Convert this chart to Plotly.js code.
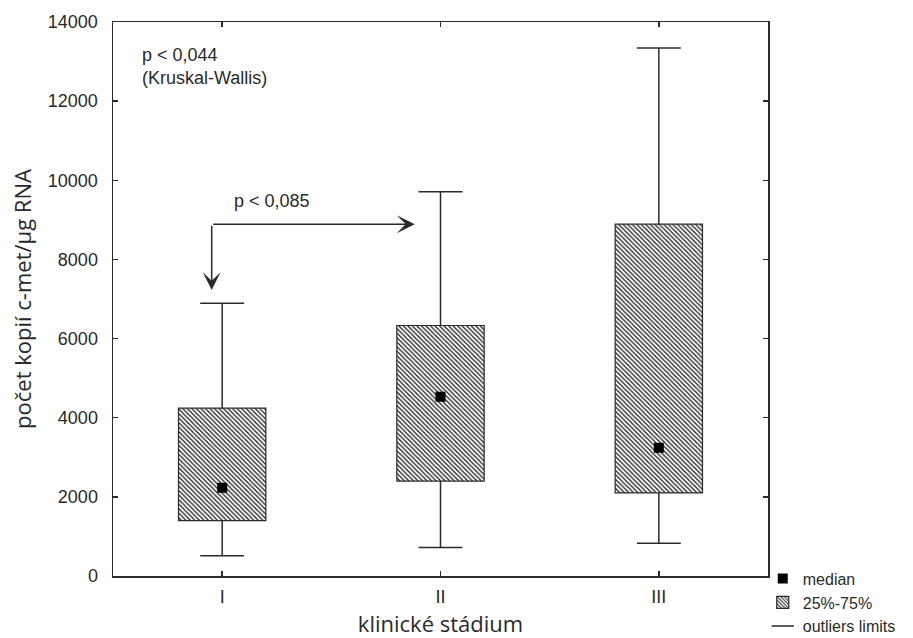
<!DOCTYPE html>
<html>
<head>
<meta charset="utf-8">
<script src="https://cdn.plot.ly/plotly-3.0.1.min.js"></script>
<style>html,body{margin:0;padding:0;background:#fff;}#chart{width:913px;height:638px;}</style>
</head>
<body>
<div id="chart"></div>
<script>
// Categories (clinical stage)
const stages = ['I', 'II', 'III'];
// Box statistics (copies c-met / µg RNA)
const q1Values = [1400, 2400, 2100];
const q3Values = [4240, 6330, 8890];
const medianValues = [2230, 4530, 3240];
const lowerLimits = [510, 720, 830];
const upperLimits = [6890, 9710, 13340];
// Y tick values
const yTicks = [0, 2000, 4000, 6000, 8000, 10000, 12000, 14000];
// Annotation values
const kwText = 'p < 0,044<br>(Kruskal-Wallis)';
const pairText = 'p < 0,085';
const arrowCorner = {x: -0.048, y: 8890};
const arrowDownTipY = 7230;
const arrowRightTipX = 0.882;
const pairLabelPos = {x: 0.045, y: 9480};

const dark = '#2a2a2a';
const txtFont = {family: 'Liberation Sans, Arial, sans-serif', size: 18, color: '#2a2a2a'};
const titleFont = {family: 'Open Sans, sans-serif', size: 22, color: '#2a2a2a'};

// Hatched interquartile boxes
const boxTrace = {
  type: 'bar', x: stages,
  base: q1Values,
  y: q3Values.map((v, i) => v - q1Values[i]),
  width: 0.4,
  name: '25%-75%', legendrank: 2,
  marker: {
    color: 'white',
    line: {color: dark, width: 1.2},
    pattern: {shape: '\\', fgcolor: '#222', bgcolor: 'white', size: 3.2, solidity: 0.4}
  },
  hoverinfo: 'skip'
};

// Whisker lines
const wx = [], wy = [];
stages.forEach((s, i) => {
  wx.push(s, s, null, s, s, null);
  wy.push(q3Values[i], upperLimits[i], null, q1Values[i], lowerLimits[i], null);
});
const whiskerTrace = {
  type: 'scatter', mode: 'lines', x: wx, y: wy,
  line: {color: dark, width: 1.5}, showlegend: false, hoverinfo: 'skip'
};

// Whisker caps (outlier limits)
const capTrace = {
  type: 'scatter', mode: 'markers',
  x: stages.concat(stages), y: upperLimits.concat(lowerLimits),
  name: 'outliers limits', legendrank: 3,
  marker: {symbol: 'line-ew', size: 31.4, color: dark, line: {color: dark, width: 1.5}},
  hoverinfo: 'skip'
};

// Medians
const medianTrace = {
  type: 'scatter', mode: 'markers', x: stages, y: medianValues,
  name: 'median', legendrank: 1,
  marker: {symbol: 'square', size: 10, color: '#000'},
  hoverinfo: 'skip'
};

const layout = {
  width: 913, height: 638,
  margin: {l: 113, r: 145, t: 22, b: 62, autoexpand: false},
  paper_bgcolor: 'white', plot_bgcolor: 'white',
  font: txtFont,
  showlegend: true,
  legend: {
    x: 0.992, xanchor: 'left', y: 0.026, yanchor: 'top',
    font: {family: 'Liberation Sans, Arial, sans-serif', size: 16, color: '#2a2a2a'},
    bgcolor: 'rgba(0,0,0,0)', itemwidth: 30, tracegroupgap: 0
  },
  xaxis: {
    type: 'category', categoryorder: 'array', categoryarray: stages,
    range: [-0.5, 2.5], automargin: false,
    showline: true, linecolor: dark, linewidth: 1.5, mirror: 'ticks',
    ticks: 'inside', ticklen: 5, tickcolor: dark, tickwidth: 1.5,
    showgrid: false, zeroline: false,
    tickfont: txtFont, ticklabelstandoff: 4,
    title: {text: 'klinické stádium', font: titleFont, standoff: 19}
  },
  yaxis: {
    range: [0, 14000], tickvals: yTicks, ticktext: yTicks.map(String),
    automargin: false,
    showline: true, linecolor: dark, linewidth: 1.5, mirror: 'ticks',
    ticks: 'inside', ticklen: 5, tickcolor: dark, tickwidth: 1.5,
    showgrid: false, zeroline: false,
    tickfont: txtFont, ticklabelstandoff: 10,
    title: {text: 'počet kopií c-met/µg RNA', font: titleFont, standoff: 10}
  },
  annotations: [
    {xref: 'paper', yref: 'paper', x: 0.041, y: 0.962, xanchor: 'left', yanchor: 'top',
     align: 'left', text: kwText, showarrow: false, font: txtFont},
    {xref: 'x', yref: 'y', x: pairLabelPos.x, y: pairLabelPos.y, xanchor: 'left', yanchor: 'middle',
     text: pairText, showarrow: false, font: txtFont},
    {xref: 'x', yref: 'y', x: arrowCorner.x, y: arrowDownTipY,
     axref: 'x', ayref: 'y', ax: arrowCorner.x, ay: arrowCorner.y,
     showarrow: true, arrowhead: 3, arrowsize: 2, arrowwidth: 1.5, arrowcolor: dark, text: ''},
    {xref: 'x', yref: 'y', x: arrowRightTipX, y: arrowCorner.y,
     axref: 'x', ayref: 'y', ax: arrowCorner.x, ay: arrowCorner.y,
     showarrow: true, arrowhead: 3, arrowsize: 2, arrowwidth: 1.5, arrowcolor: dark, text: ''}
  ]
};

Plotly.newPlot('chart', [boxTrace, whiskerTrace, capTrace, medianTrace], layout, {staticPlot: true, displayModeBar: false});
</script>
</body>
</html>
